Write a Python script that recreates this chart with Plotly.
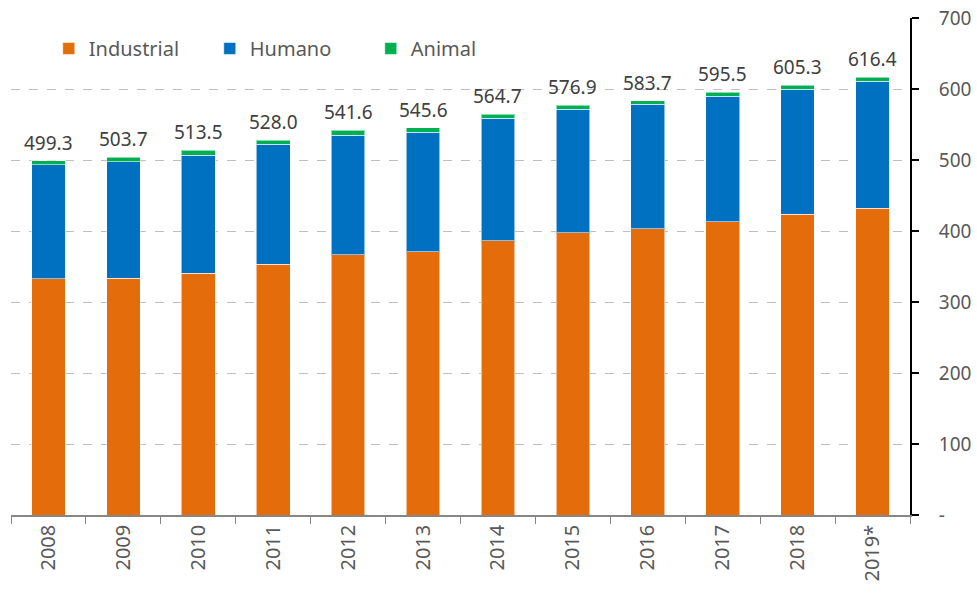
import plotly.graph_objects as go

years = ['2008', '2009', '2010', '2011', '2012', '2013', '2014', '2015', '2016', '2017', '2018', '2019*']
industrial = [332.8, 333.8, 340.8, 353.0, 366.6, 370.8, 386.3, 397.2, 403.2, 413.0, 423.4, 432.4]
humano = [160.2, 163.4, 166.2, 169.0, 168.6, 168.6, 172.3, 174.6, 175.1, 176.6, 176.6, 178.3]
animal = [6.3, 6.5, 6.5, 6.0, 6.4, 6.2, 6.1, 5.1, 5.4, 5.9, 5.3, 5.7]
totals = [499.3, 503.7, 513.5, 528.0, 541.6, 545.6, 564.7, 576.9, 583.7, 595.5, 605.3, 616.4]
y_ticks = [0, 100, 200, 300, 400, 500, 600, 700]
y_ticktext = ['-', '100', '200', '300', '400', '500', '600', '700']

FONT = 'Noto Sans'
GREY = '#595959'

fig = go.Figure()
series = [('Industrial', industrial, '#E46C0A'),
          ('Humano', humano, '#0070C0'),
          ('Animal', animal, '#00B050')]
for name, vals, color in series:
    fig.add_trace(go.Bar(
        x=years, y=vals, name=name, width=0.45,
        marker=dict(color=color, line=dict(color='rgba(255,255,255,0.55)', width=1)),
    ))

# totals above each stack (category index, since '2008' etc. would be read as numbers)
for i, t in enumerate(totals):
    fig.add_annotation(x=i, y=t, text=f'{t:.1f}', showarrow=False,
                       yanchor='bottom', yshift=3,
                       font=dict(family=FONT, size=19, color='#404040'))

fig.update_layout(
    barmode='stack',
    width=977, height=593,
    margin=dict(l=11, r=67, t=18, b=78, autoexpand=False),
    plot_bgcolor='white', paper_bgcolor='white',
    font=dict(family=FONT, size=18, color=GREY),
    legend=dict(orientation='h', x=0.042, y=0.978, xanchor='left', yanchor='top',
                traceorder='normal',
                font=dict(family=FONT, size=20, color=GREY),
                entrywidth=116, bgcolor='rgba(0,0,0,0)'),
    showlegend=True,
)
fig.update_xaxes(
    type='category', range=[-0.5, len(years) - 0.5], tickangle=-90, tickson='boundaries',
    ticks='outside', ticklen=7, tickcolor='#868686',
    showline=True, linecolor='#868686', linewidth=1.5,
    tickfont=dict(family=FONT, size=20, color=GREY),
    showgrid=False, automargin=False,
)
fig.update_yaxes(
    side='right', range=[0, 700], tickvals=y_ticks, ticktext=y_ticktext,
    ticks='outside', ticklen=7, tickcolor='black', tickwidth=2,
    showline=True, linecolor='black', linewidth=2,
    showgrid=True, gridcolor='#BFBFBF', griddash='dash', gridwidth=1,
    tickfont=dict(family=FONT, size=19, color=GREY),
    ticklabelstandoff=16, zeroline=False, automargin=False,
)

# the page body has a default margin, drop it so the figure fills the window
fig.write_html('out.html', config={'displayModeBar': False},
               post_script="document.body.style.margin='0';")
